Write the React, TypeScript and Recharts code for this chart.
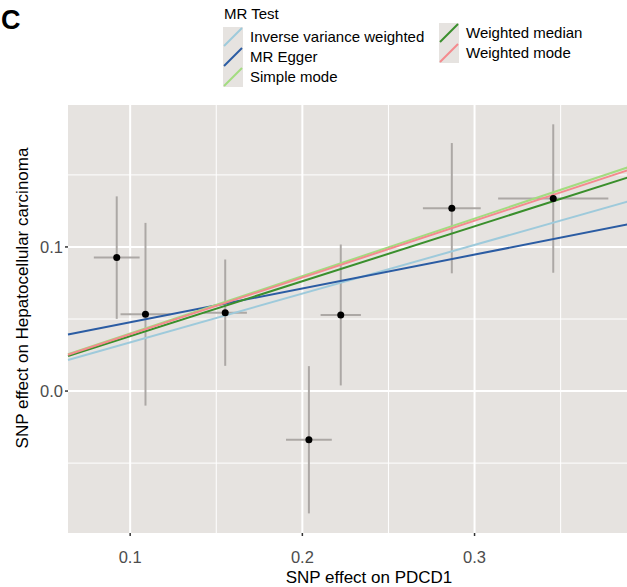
import {
  ComposedChart,
  Scatter,
  ErrorBar,
  XAxis,
  YAxis,
  CartesianGrid,
  ReferenceLine,
} from 'recharts';

// SNP-level estimates (exposure = PDCD1, outcome = hepatocellular carcinoma)
const betaExposure = [0.0922, 0.1089, 0.1552, 0.2038, 0.2223, 0.2868, 0.3457];
const seExposure = [0.0133, 0.0145, 0.0126, 0.0133, 0.0117, 0.0168, 0.032];
const betaOutcome = [0.0926, 0.0533, 0.0544, -0.0338, 0.0528, 0.1269, 0.1336];
const seOutcome = [0.0425, 0.0634, 0.0369, 0.0511, 0.0489, 0.0452, 0.0515];

// MR method fits
const methods = ['Inverse variance weighted', 'MR Egger', 'Simple mode', 'Weighted median', 'Weighted mode'];
const slopes = [0.338, 0.235, 0.399, 0.381, 0.394];
const intercepts = [0, 0.0242, 0, 0, 0];
const methodColors = ['#9ecadb', '#2b5ca3', '#a3dc80', '#3a8f2c', '#f58a8e'];

const xTicks = [0.1, 0.2, 0.3];
const yTicks = [0, 0.1];
const xMinor = [0.05, 0.15, 0.25, 0.35];
const yMinor = [-0.05, 0.05, 0.15];

const X_DOMAIN: [number, number] = [0.0639, 0.3926];
const Y_DOMAIN: [number, number] = [-0.0985, 0.1985];

const FONT = '"Liberation Sans", Arial, sans-serif';
const PANEL = '#e6e3e0';
const BAR = '#aca8a5';

const points = betaExposure.map((x, i) => ({
  x,
  y: betaOutcome[i],
  seX: seExposure[i],
  seY: seOutcome[i],
}));

const Dot = (props: any) => <circle cx={props.cx} cy={props.cy} r={3.5} fill="#000" />;

const XTitle = () => (
  <text x={369} y={583} textAnchor="middle" fontSize={17} fill="#000" fontFamily={FONT}>
    SNP effect on PDCD1
  </text>
);

const YTitle = () => (
  <text
    x={0}
    y={0}
    transform="translate(28,298) rotate(-90)"
    textAnchor="middle"
    fontSize={17}
    fill="#000"
    fontFamily={FONT}
  >
    SNP effect on Hepatocellular carcinoma
  </text>
);

function LegendKey({ color }: { color: string }) {
  return (
    <svg width={20} height={20} style={{ display: 'block' }}>
      <rect width={20} height={20} fill={PANEL} />
      <line x1={1} y1={19} x2={19} y2={1} stroke={color} strokeWidth={2} />
    </svg>
  );
}

function LegendColumn({ idx, left, top }: { idx: number[]; left: number; top: number }) {
  return (
    <div style={{ position: 'absolute', left, top }}>
      {idx.map((i) => (
        <div key={methods[i]} style={{ display: 'flex', alignItems: 'center', height: 20 }}>
          <LegendKey color={methodColors[i]} />
          <span style={{ marginLeft: 7, fontSize: 15, lineHeight: '20px' }}>{methods[i]}</span>
        </div>
      ))}
    </div>
  );
}

export default function App() {
  return (
    <div
      style={{
        position: 'absolute',
        left: 0,
        top: 0,
        width: 627,
        height: 587,
        overflow: 'hidden',
        background: '#fff',
        fontFamily: FONT,
      }}
    >
      <div style={{ position: 'absolute', left: 1, top: 3, fontSize: 27, fontWeight: 'bold', lineHeight: '34px' }}>C</div>
      <div style={{ position: 'absolute', left: 224, top: 4, fontSize: 15, lineHeight: '20px' }}>MR Test</div>
      <LegendColumn idx={[0, 1, 2]} left={223} top={27} />
      <LegendColumn idx={[3, 4]} left={439} top={23} />

      <ComposedChart
        width={634}
        height={587}
        margin={{ top: 105, right: 0, bottom: 0, left: 0 }}
        style={{ position: 'absolute', left: 0, top: 0 }}
      >
        <CartesianGrid
          fill={PANEL}
          stroke="#fff"
          strokeWidth={1}
          horizontalValues={yMinor}
          verticalValues={xMinor}
        />
        <CartesianGrid
          stroke="#fff"
          strokeWidth={2}
          horizontalValues={yTicks}
          verticalValues={xTicks}
        />
        <XAxis
          dataKey="x"
          type="number"
          domain={X_DOMAIN}
          allowDataOverflow
          ticks={xTicks}
          tickFormatter={(v: number) => v.toFixed(1)}
          height={54}
          axisLine={false}
          tickSize={3}
          tickMargin={15}
          tickLine={{ stroke: '#333', strokeWidth: 1.5 }}
          tick={{ fontSize: 16.5, fill: '#4d4d4d', fontFamily: FONT }}
          label={<XTitle />}
        />
        <YAxis
          dataKey="y"
          type="number"
          domain={Y_DOMAIN}
          allowDataOverflow
          ticks={yTicks}
          tickFormatter={(v: number) => v.toFixed(1)}
          width={68}
          axisLine={false}
          tickSize={3}
          tickMargin={2}
          tickLine={{ stroke: '#333', strokeWidth: 1.5 }}
          tick={{ fontSize: 16.5, fill: '#4d4d4d', fontFamily: FONT }}
          label={<YTitle />}
        />
        <Scatter data={points} shape={Dot} isAnimationActive={false}>
          <ErrorBar dataKey="seX" direction="x" width={0} stroke={BAR} strokeWidth={2} />
          <ErrorBar dataKey="seY" direction="y" width={0} stroke={BAR} strokeWidth={2} />
        </Scatter>
        {methods.map((m, i) => (
          <ReferenceLine
            key={m}
            segment={[
              { x: X_DOMAIN[0], y: intercepts[i] + slopes[i] * X_DOMAIN[0] },
              { x: X_DOMAIN[1], y: intercepts[i] + slopes[i] * X_DOMAIN[1] },
            ]}
            stroke={methodColors[i]}
            strokeWidth={2}
            ifOverflow="visible"
          />
        ))}
      </ComposedChart>
    </div>
  );
}
